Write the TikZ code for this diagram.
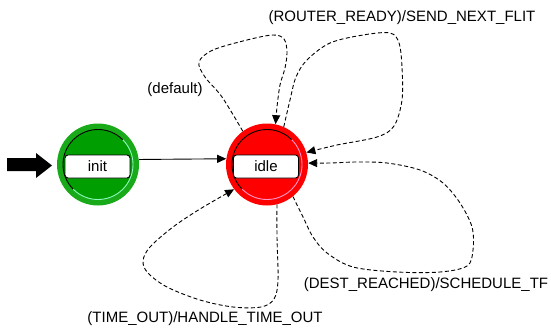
\documentclass[tikz,border=0pt]{standalone}
\usepackage{fontspec}
\setmainfont{Liberation Sans}
\usetikzlibrary{arrows.meta}
\definecolor{gouter}{RGB}{24,170,24}
\definecolor{ginner}{RGB}{0,158,0}
\definecolor{glight}{RGB}{140,250,190}
\definecolor{router}{RGB}{255,0,0}
\definecolor{rlight}{RGB}{255,150,200}
\tikzset{
  statecircle/.style={circle, minimum size=82pt, inner sep=0pt, draw=none},
  statelbl/.style={draw=black, fill=white, rounded corners=3pt, minimum width=65pt, minimum height=23pt, inner sep=0pt, line width=0.9pt, font=\fontsize{15}{17}\selectfont},
  txt/.style={inner sep=0pt, font=\fontsize{15}{17}\selectfont},
  trans/.style={line width=0.9pt, -{Triangle[length=9pt,width=8pt]}},
  selfloop/.style={trans, dash pattern=on 4pt off 2.5pt}
}
\begin{document}
\begin{tikzpicture}[x=1pt,y=-1pt]
\useasboundingbox (0,0) rectangle (551,329);
% states
\node[statecircle, fill=gouter] (init) at (98,164.5) {};
\node[statecircle, fill=router] (idle) at (267,164.5) {};
\fill[ginner] (init.center) circle[radius=35];
\draw[line width=0.9pt, black] (init.center) ++(-45:35) arc[start angle=-45, end angle=-225, radius=35];
\draw[line width=0.9pt, glight] (init.center) ++(-225:35) arc[start angle=-225, end angle=-405, radius=35];
\draw[line width=0.9pt, black] (idle.center) ++(-45:35) arc[start angle=-45, end angle=-225, radius=35];
\draw[line width=0.9pt, rlight] (idle.center) ++(-225:35) arc[start angle=-225, end angle=-405, radius=35];
\node[statelbl] (initlbl) at (97.5,166.5) {init};
\node[statelbl] (idlelbl) at (266,166.5) {idle};
% initial marker
\fill[black] (7,158) -- (36,158) -- (36,153) -- (52,165.5) -- (36,178) -- (36,171) -- (7,171) -- cycle;
% init -> idle
\draw[trans] (init.7.7) -- (idle.172.3);
% self loops
\draw[selfloop] plot[smooth, tension=0.55] coordinates {(idle.126) (222,97) (205,77) (199,62) (213,50) (247,40) (273,35) (284,39) (287,52) (285,68) (280,85) (277,107) (idle.78)};
\draw[selfloop] plot[smooth, tension=0.55] coordinates {(idle.66) (290,100) (296,77) (307,60) (330,43) (363,35) (390,33) (399,43) (402,67) (402,100) (394,126) (377,137) (337,145) (idle.17)};
\draw[selfloop] plot[smooth, tension=0.55] coordinates {(idle.-51) (303,217) (313,237) (327,253) (353,267) (397,272) (440,272) (467,266) (473,250) (472,227) (460,203) (443,183) (420,170) (387,163) (357,162) (330,163) (idle.2)};
\draw[selfloop] plot[smooth, tension=0.55] coordinates {(idle.-76) (277,237) (278,280) (274,299) (261,307) (233,307) (200,300) (167,287) (148,273) (143,261) (150,247) (173,227) (200,209) (idle.-143)};
% labels
\node[txt] (lbldefault) at (175,90) {(default)};
\node[txt] (lblrouter) at (402,18) {(ROUTER\_READY)/SEND\_NEXT\_FLIT};
\node[txt] (lbldest) at (426,285) {(DEST\_REACHED)/SCHEDULE\_TF};
\node[txt] (lbltime) at (205,319) {(TIME\_OUT)/HANDLE\_TIME\_OUT};
\end{tikzpicture}
\end{document}
